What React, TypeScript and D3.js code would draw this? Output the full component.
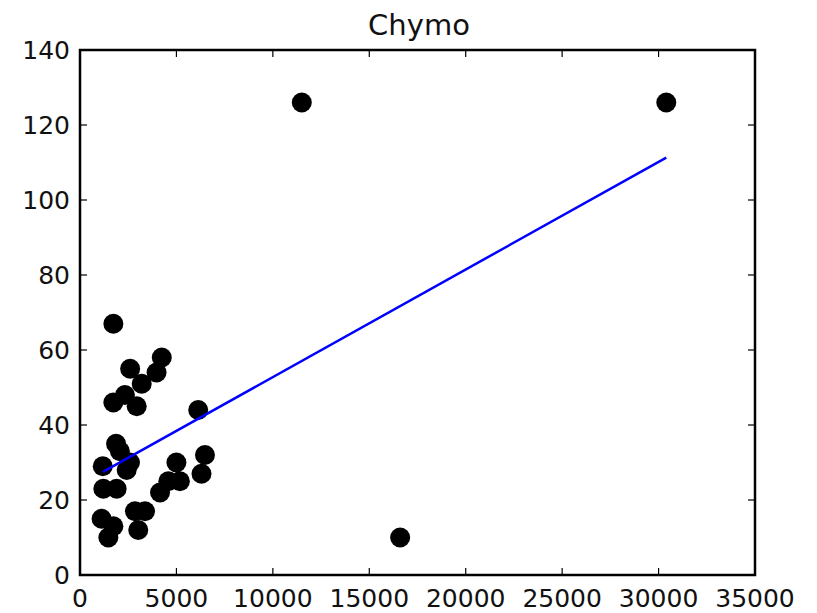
import React from 'react';
import * as d3 from 'd3';

const title = 'Chymo';

// scatter points
const xValues = [
  11500, 30400, 16600, 1730, 4240, 2600, 3970, 3200, 2330, 1730, 2940, 6130,
  1870, 2070, 1180, 2420, 2590, 5000, 6480, 6300, 5180, 4580, 4150, 1210,
  1900, 2850, 3370, 1120, 1730, 3020, 1470,
];
const yValues = [
  126, 126, 10, 67, 58, 55, 54, 51, 48, 46, 45, 44,
  35, 33, 29, 28, 30, 30, 32, 27, 25, 25, 22, 23,
  23, 17, 17, 15, 13, 12, 10,
];

// fitted line end points
const fitX = [1190, 30400];
const fitY = [27.5, 111.3];

const xTicks = [0, 5000, 10000, 15000, 20000, 25000, 30000, 35000];
const yTicks = [0, 20, 40, 60, 80, 100, 120, 140];

const W = 817;
const H = 613;
const left = 80, right = 755, top = 50, bottom = 575;

export default function App() {
  const x = d3.scaleLinear().domain([0, 35000]).range([left, right]);
  const y = d3.scaleLinear().domain([0, 140]).range([bottom, top]);
  const line = d3.line<number>().x((d, i) => x(fitX[i])).y((d, i) => y(fitY[i]));
  const font = '"DejaVu Sans", sans-serif';
  const tl = 7;

  return (
    <svg width={W} height={H} style={{ position: 'absolute', left: 0, top: 0, background: '#fff' }}>
      <text x={419} y={35} textAnchor="middle" fontFamily={font} fontSize={29} fill="#111">{title}</text>

      {/* ticks */}
      {xTicks.map(t => (
        <g key={'x' + t}>
          <line x1={x(t)} x2={x(t)} y1={bottom} y2={bottom - tl} stroke="#000" strokeWidth={1.2} />
          <line x1={x(t)} x2={x(t)} y1={top} y2={top + tl} stroke="#000" strokeWidth={1.2} />
          <text x={x(t)} y={607} textAnchor="middle" fontFamily={font} fontSize={25} fill="#111">{t}</text>
        </g>
      ))}
      {yTicks.map(t => (
        <g key={'y' + t}>
          <line x1={left} x2={left + tl} y1={y(t)} y2={y(t)} stroke="#000" strokeWidth={1.2} />
          <line x1={right} x2={right - tl} y1={y(t)} y2={y(t)} stroke="#000" strokeWidth={1.2} />
          <text x={70} y={y(t) + 9} textAnchor="end" fontFamily={font} fontSize={25} fill="#111">{t}</text>
        </g>
      ))}

      {/* points */}
      {xValues.map((v, i) => (
        <circle key={i} cx={x(v)} cy={y(yValues[i])} r={10} fill="#000" />
      ))}

      <path d={line(fitX) || ''} fill="none" stroke="#0000ff" strokeWidth={2.5} />

      <rect x={left} y={top} width={right - left} height={bottom - top} fill="none" stroke="#000" strokeWidth={2.5} />
    </svg>
  );
}
